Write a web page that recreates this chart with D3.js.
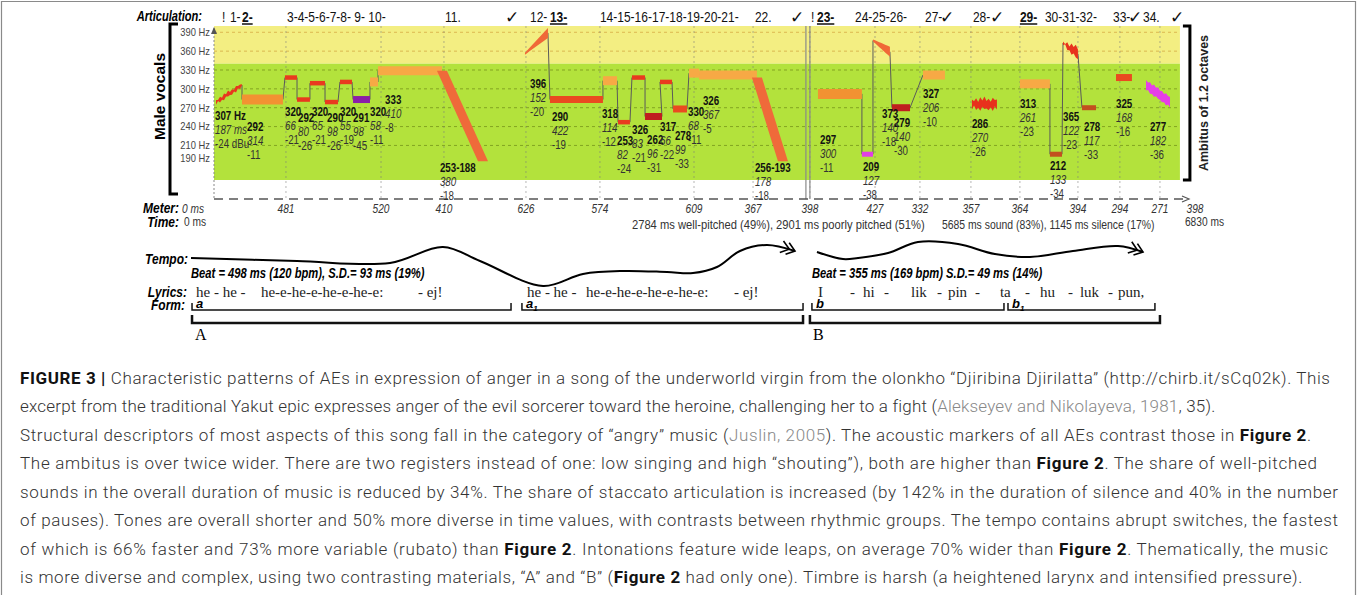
<!DOCTYPE html>
<html><head><meta charset="utf-8">
<script src="https://cdn.jsdelivr.net/npm/d3@7"></script>
<style>
html,body{margin:0;padding:0;background:#fff;}
svg{display:block;}
</style></head><body>
<svg id="c" width="1357" height="595"></svg>
<script>
// ---------------- DATA ----------------
const pitchTicks = [390, 360, 330, 300, 270, 240, 210, 190];
const registerBoundaryHz = 340;
const totalMs = 6830;
const plotEndMs = 6725;
const beatMs = [0, 501, 1163, 1601, 2172, 2687, 3342, 3753, 4149, 4602, 4915, 5270, 5611, 6015, 6307, 6586, 6830];
const meterLabels = ["0 ms", "481", "520", "410", "626", "574", "609", "367", "398", "427", "332", "357", "364", "394", "294", "271", "398"];
const sectionBoundaryMs = 4135;

const noteStartMs = [14,195,494,578,668,773,877,968,1086,1142,1587,2165,2339,2708,2813,2910,3001,3105,3196,3307,3377,3780,4205,4511,4588,4720,4936,5277,5611,5820,5911,6043,6280,6489];
const noteEndMs   = [195,480,578,668,773,863,961,1086,1142,1587,1873,2325,2708,2806,2896,3001,3119,3189,3293,3377,3780,3961,4511,4588,4706,4846,5089,5451,5820,5904,6015,6141,6391,6656];
const noteStartHz = [279,283,318,283,309,279,311,283,311,329,329,356,283,313,247,318,256,311,268,325,322,318,292,196,377,270,322,276,308,196,373,270,318,306];
const noteEndHz   = [306,283,318,283,309,279,311,283,311,329,185,389,283,313,247,318,256,311,268,325,322,185,292,196,359,270,322,276,308,196,356,270,318,279];
const noteKind = ["redThin","orange","red","red","red","red","red","purple","light","light","glide","flag","redorange","light","red","red","darkred","red","redorange","light","light","glide","orange","magenta","flag","darkred","light","redNoisy","light","brown","flagRed","brown","redorange","magentaBig"];
const noteLegato = [0,1,1,1,1,1,1,1,1,1,1,0,1,1,1,1,1,1,1,1,1,1,0,1,1,1,1,0,0,1,1,1,0,0];

const notePitchLabel = ["307 Hz","292","320","292","320","290","320","291","320","333","253-188","396","290","318","253","326","262","317","278","330","326","256-193","297","209","373","279","327","286","313","212","365","278","325","277"];
const noteDurLabel = ["187 ms","314","66","80","65","98","55","98","58","410","380","152","422","114","82","83","96","66","99","68","367","178","300","127","140","140","206","270","261","133","122","117","168","182"];
const noteDbLabel = ["-24 dBu","-11","-21","-26","-21","-26","-19","-45","-11","-8","-18","-20","-19","-12","-24","-21","-31","-22","-33","-11","-5","-18","-11","-38","-18","-30","-10","-26","-23","-34","-23","-33","-16","-36"];
const labelAnchorMs = [7,230,494,585,682,787,877,968,1086,1191,1573,2200,2353,2701,2806,2910,3015,3105,3209,3300,3404,3766,4219,4518,4651,4734,4936,5277,5611,5820,5911,6057,6280,6516];
const labelAnchorHz = [258,240,263,254,263,254,263,254,263,283,174,308,256,260,217,235,220,240,226,263,281,174,220,176,261,247,292,244,276,178,256,240,276,240];

const articulationText = ["!","1-","2-","3-4-5-6-7-8- 9- 10-","11.","✓","12-","13-","14-15-16-17-18-19-20-21-","22.","✓","!","23-","24-25-26-","27-","✓","28-","✓","29-","30-31-32-","33-","✓","34.","✓"];
const articulationMs = [56,111,195,508,1608,2026,2200,2339,2687,3766,4010,4156,4198,4463,4950,5054,5284,5402,5611,5785,6259,6363,6468,6656];
const articulationAccent = [0,0,1,0,0,0,0,1,0,0,0,0,1,0,0,0,0,0,1,0,0,0,0,0];

const tempoAMs = [-160,578,1225,1594,1852,2291,2569,2847,3154,3335,3502,3662,3850,4045];
const tempoALevel = [6.55,6.0,5.64,8.55,6.0,1.45,3.64,4.18,4.0,3.82,4.91,7.82,8.91,7.82];
const tempoBMs = [4198,4379,4484,4693,4901,5180,5437,5681,5980,6294,6468];
const tempoBLevel = [7.64,6.36,6.55,7.45,9.45,9.09,7.27,6.73,7.82,8.73,7.64];
const beatTexts = ["Beat = 498 ms (120 bpm), S.D.= 93 ms (19%)", "Beat = 355 ms (169 bpm) S.D.= 49 ms (14%)"];
const beatTextMs = [-160, 4163];

const lyricTokens = ["he - he -","he-e-he-e-he-e-he-e:","- ej!","he - he -","he-e-he-e-he-e-he-e:","- ej!","I","-","hi","-","lik","-","pin","-","ta","-","hu","-","luk","-","pun,"];
const lyricMs = [-125,327,1420,2179,2590,3620,4205,4428,4518,4665,4853,5034,5110,5298,5472,5646,5751,5946,6029,6224,6294];

const formNames = ["a","a","b","b"];
const formSub = ["","1","","1"];
const formStartMs = [-153,2144,4163,5528];
const formEndMs = [2068,4101,5500,6551];
const partNames = ["A","B"];
const partStartMs = [-153,4149];
const partEndMs = [4101,6586];

const pitchStatText = "2784 ms well-pitched (49%), 2901 ms poorly pitched (51%)";
const pitchStatMs = 2910;
const soundStatText = "5685 ms sound (83%), 1145 ms silence (17%)";
const soundStatMs = 5068;
const totalLabel = "6830 ms";
const totalLabelMs = 6760;

const captionLines = [
 [["FIGURE 3 | ","b"],["Characteristic patterns of AEs in expression of anger in a song of the underworld virgin from the olonkho “Djiribina Djirilatta” (http://chirb.it/sCq02k). This","n"]],
 [["excerpt from the traditional Yakut epic expresses anger of the evil sorcerer toward the heroine, challenging her to a fight (","n"],["Alekseyev and Nikolayeva, 1981","g"],[", 35).","n"]],
 [["Structural descriptors of most aspects of this song fall in the category of “angry” music (","n"],["Juslin, 2005","g"],["). The acoustic markers of all AEs contrast those in ","n"],["Figure 2","b"],[".","n"]],
 [["The ambitus is over twice wider. There are two registers instead of one: low singing and high “shouting”), both are higher than ","n"],["Figure 2","b"],[". The share of well-pitched","n"]],
 [["sounds in the overall duration of music is reduced by 34%. The share of staccato articulation is increased (by 142% in the duration of silence and 40% in the number","n"]],
 [["of pauses). Tones are overall shorter and 50% more diverse in time values, with contrasts between rhythmic groups. The tempo contains abrupt switches, the fastest","n"]],
 [["of which is 66% faster and 73% more variable (rubato) than ","n"],["Figure 2","b"],[". Intonations feature wide leaps, on average 70% wider than ","n"],["Figure 2","b"],[". Thematically, the music","n"]],
 [["is more diverse and complex, using two contrasting materials, “A” and “B” (","n"],["Figure 2","b"],[" had only one). Timbre is harsh (a heightened larynx and intensified pressure).","n"]]
];
const captionLineEnds = [1330,1215,1311,1317,1338,1338,1328,1302];

// ---------------- STYLE ----------------
const SANS = "'Liberation Sans',Arial,sans-serif";
const SERIF = "'Liberation Serif','DejaVu Serif',serif";
const CAP = "Roboto,'Liberation Sans',sans-serif";
const kindStyle = {
  redThin:{c:"#e8361e",w:4,noisy:1},
  red:{c:"#e93a1f",w:4.5},
  redNoisy:{c:"#e8301c",w:9,noisy:1.6},
  orange:{c:"#f29232",w:10},
  light:{c:"#f7a945",w:9},
  purple:{c:"#8b1ea8",w:7},
  glide:{c:"#ef6a3a",w:10,glide:true},
  flag:{c:"#f06838",w0:2,w1:10},
  flagRed:{c:"#e8321c",w0:3,w1:11,noisy:1.3},
  redorange:{c:"#ea4a20",w:7},
  darkred:{c:"#bf1f1f",w:7},
  magenta:{c:"#e23ee6",w:5},
  magentaBig:{c:"#e63ee8",w:10,noisy:0.8},
  brown:{c:"#c2501f",w:5}
};
const NOISE=[0,1.2,-0.8,1.6,-1.4,0.6,-1.8,1,-0.4,1.4,-1.1,0.3];
function squeeze(sel,f){sel.each(function(){const L=this.getComputedTextLength();d3.select(this).attr("textLength",(L*f).toFixed(2)).attr("lengthAdjust","spacingAndGlyphs");});return sel;}

// ---------------- SCALES ----------------
const svg = d3.select("#c");
const x = d3.scaleLinear().domain([0,totalMs]).range([214,1195]);
const y = d3.scaleLinear().domain([155,400]).range([180,26]);
const yT = d3.scaleLinear().domain([0,10]).range([294,239]);
const AXIS_Y = 199;
const ART_Y = 16, METER_Y = 208, TIME_Y = 222, TEMPO_Y = 259, BEAT_Y = 273, LYR_Y = 292, FORM_Y = 305;

// frame
svg.append("path").attr("d","M1.5,595V1.5H1355.5V595").attr("fill","none").attr("stroke","#8a8a8a").attr("stroke-width",1.2);

// defs
const defs = svg.append("defs");
defs.append("marker").attr("id","dbl").attr("viewBox","-12 -7 20 14").attr("refX",4).attr("refY",0)
  .attr("markerWidth",20).attr("markerHeight",14).attr("markerUnits","userSpaceOnUse").attr("orient","auto")
  .append("path").attr("d","M-10,-6L-2,0L-10,6M-4,-6L4,0L-4,6").attr("fill","none").attr("stroke","#000").attr("stroke-width",1.6);
defs.append("marker").attr("id","arr").attr("viewBox","-8 -4 10 8").attr("refX",0).attr("refY",0)
  .attr("markerWidth",10).attr("markerHeight",8).attr("markerUnits","userSpaceOnUse").attr("orient","auto")
  .append("path").attr("d","M-7,-3L0,0L-7,3").attr("fill","none").attr("stroke","#555").attr("stroke-width",1.2);

// background registers
const x0 = x(0), xe = x(plotEndMs);
svg.append("rect").attr("x",x0).attr("y",y(400)).attr("width",xe-x0).attr("height",y(registerBoundaryHz)-y(400)).attr("fill","#f3ee82");
svg.append("rect").attr("x",x0).attr("y",y(registerBoundaryHz)).attr("width",xe-x0).attr("height",y(155)-y(registerBoundaryHz)).attr("fill","#b3e23c");

// horizontal grid
svg.append("g").selectAll("line").data(pitchTicks.slice(0,7)).join("line")
  .attr("x1",x0).attr("x2",xe).attr("y1",d=>y(d)).attr("y2",d=>y(d))
  .attr("stroke",d=>d>registerBoundaryHz?"rgba(200,140,40,0.55)":"rgba(70,90,0,0.45)")
  .attr("stroke-dasharray","3,3").attr("stroke-width",1);
// vertical beat grid
svg.append("g").selectAll("line").data(beatMs.slice(1,-1)).join("line")
  .attr("x1",d=>x(d)).attr("x2",d=>x(d)).attr("y1",y(400)).attr("y2",AXIS_Y)
  .attr("stroke","rgba(120,120,120,0.55)").attr("stroke-dasharray","2,3").attr("stroke-width",1);
// y axis dotted line + arrow
svg.append("line").attr("x1",x0).attr("x2",x0).attr("y1",y(400)+2).attr("y2",AXIS_Y).attr("stroke","#888").attr("stroke-dasharray","2,2");
svg.append("path").attr("d",`M${x0-3},${y(400)+8}L${x0},${y(400)+1}L${x0+3},${y(400)+8}Z`).attr("fill","#555");
// section boundary double line
[-2,2].forEach(o=>svg.append("line").attr("x1",x(sectionBoundaryMs)+o).attr("x2",x(sectionBoundaryMs)+o)
  .attr("y1",y(400)).attr("y2",AXIS_Y).attr("stroke","#8a8a8a").attr("stroke-width",1.2));
// time axis
svg.append("line").attr("x1",x0).attr("x2",x(totalMs)-6).attr("y1",AXIS_Y).attr("y2",AXIS_Y)
  .attr("stroke","#555").attr("stroke-width",1.3).attr("stroke-dasharray","9,6").attr("marker-end","url(#arr)");

// y tick labels
squeeze(svg.append("g").selectAll("text").data(pitchTicks).join("text")
  .attr("x",x0-4).attr("y",d=>y(d)).attr("dy","0.35em").attr("text-anchor","end")
  .attr("font-family",SANS).attr("font-size",11).attr("fill","#444").text(d=>d+" Hz"),0.85);

// left bracket and title
svg.append("path").attr("d",`M178,${y(400)-2}H170V${AXIS_Y-5}H178`).attr("fill","none").attr("stroke","#000").attr("stroke-width",3);
svg.append("text").attr("transform",`translate(160,${(y(400)+AXIS_Y)/2-16}) rotate(-90)`).attr("text-anchor","middle").attr("dy","0.35em")
  .attr("font-family",SANS).attr("font-weight","bold").attr("font-size",15.5).text("Male vocals");
// right bracket
svg.append("path").attr("d",`M${xe+3},${y(400)}H${xe+10}V${y(155)}H${xe+3}`).attr("fill","none").attr("stroke","#000").attr("stroke-width",3);
svg.append("text").attr("transform",`translate(${xe+24},${(y(400)+y(155))/2}) rotate(-90)`).attr("text-anchor","middle").attr("dy","0.35em")
  .attr("font-family",SANS).attr("font-weight","bold").attr("font-size",12.5).attr("fill","#222").text("Ambitus of 1.2 octaves");

// ---------------- NOTES ----------------
const notes = noteStartMs.map((t0,i)=>({i,t0,t1:noteEndMs[i],f0:noteStartHz[i],f1:noteEndHz[i],kind:noteKind[i],legato:noteLegato[i]}));
function notePath(n){
  const st = kindStyle[n.kind];
  const ax=x(n.t0), bx=x(n.t1), ay=y(n.f0), by=y(n.f1);
  if(st.glide){const h=st.w/2;return `M${ax-h},${ay}L${ax+h},${ay}L${bx+h},${by}L${bx-h},${by}Z`;}
  const w0 = st.w0!==undefined?st.w0:st.w, w1 = st.w1!==undefined?st.w1:st.w;
  const steps = Math.max(2,Math.round((bx-ax)/2));
  const top=[],bot=[];
  for(let k=0;k<=steps;k++){
    const u=k/steps, xx=ax+(bx-ax)*u, yy=ay+(by-ay)*u, hw=(w0+(w1-w0)*u)/2;
    const j1=st.noisy?NOISE[k%NOISE.length]*st.noisy:0, j2=st.noisy?NOISE[(k+5)%NOISE.length]*st.noisy:0;
    top.push([xx,yy-hw+j1]); bot.push([xx,yy+hw+j2]);
  }
  return "M"+top.map(p=>p.join(",")).join("L")+"L"+bot.reverse().map(p=>p.join(",")).join("L")+"Z";
}
svg.append("g").selectAll("line").data(notes.filter(n=>n.legato && n.i>0 && !kindStyle[n.kind].glide)).join("line")
  .attr("x1",n=>x(notes[n.i-1].t1)).attr("y1",n=>y(notes[n.i-1].f1))
  .attr("x2",n=>x(n.t0)).attr("y2",n=>y(n.f0)).attr("stroke","#5a5a5a").attr("stroke-width",1);
svg.append("g").selectAll("path").data(notes).join("path")
  .attr("d",notePath).attr("fill",n=>kindStyle[n.kind].c);

// note labels (3 lines each)
const lg = svg.append("g").attr("font-family",SANS).attr("font-size",12.5);
const labelRows = [[notePitchLabel,"bold","normal","#111"],[noteDurLabel,"normal","italic","#333"],[noteDbLabel,"normal","normal","#333"]];
labelRows.forEach(([arr,fw,fs,col],r)=>{
  squeeze(lg.append("g").selectAll("text").data(notes).join("text")
    .attr("x",n=>x(labelAnchorMs[n.i])).attr("y",n=>y(labelAnchorHz[n.i])+r*14).attr("dy","0.35em")
    .attr("font-weight",fw).attr("font-style",fs).attr("fill",col).text(n=>arr[n.i]),0.78);
});

// ---------------- ARTICULATION ROW ----------------
squeeze(svg.append("text").attr("x",202).attr("y",ART_Y).attr("dy","0.35em").attr("text-anchor","end")
  .attr("font-family",SANS).attr("font-weight","bold").attr("font-style","italic").attr("font-size",15).text("Articulation:"),0.74);
const art = svg.append("g").selectAll("text").data(articulationText).join("text")
  .attr("x",(d,i)=>x(articulationMs[i])).attr("y",ART_Y+1).attr("dy","0.35em")
  .attr("font-family",d=>d==="✓"?"'DejaVu Sans',sans-serif":SANS)
  .attr("font-size",d=>d==="✓"?17:15).attr("font-weight",(d,i)=>articulationAccent[i]||d==="✓"?"bold":"normal")
  .style("text-decoration",(d,i)=>articulationAccent[i]?"underline":"none")
  .attr("fill","#111").text(d=>d);
squeeze(art.filter(d=>d!=="✓"),0.8);

// ---------------- METER / TIME ----------------
const rowLabel=(txt,yy,xr,f)=>squeeze(svg.append("text").attr("x",xr).attr("y",yy).attr("dy","0.35em").attr("text-anchor","end")
  .attr("font-family",SANS).attr("font-weight","bold").attr("font-style","italic").attr("font-size",15).text(txt),f||0.8);
rowLabel("Meter:",METER_Y,179);
rowLabel("Time:",TIME_Y,179);
squeeze(svg.append("g").selectAll("text").data(meterLabels).join("text")
  .attr("x",(d,i)=>i===0?182:x(beatMs[i])).attr("y",METER_Y).attr("dy","0.35em")
  .attr("text-anchor",(d,i)=>i===0?"start":"middle")
  .attr("font-family",SANS).attr("font-style","italic").attr("font-size",13).attr("fill","#333").text(d=>d),0.78);
squeeze(svg.append("text").attr("x",184).attr("y",TIME_Y).attr("dy","0.35em").attr("font-family",SANS).attr("font-size",12).attr("fill","#333").text("0 ms"),0.85);
squeeze(svg.append("text").attr("x",x(pitchStatMs)).attr("y",TIME_Y+2).attr("dy","0.35em").attr("font-family",SANS).attr("font-size",13).attr("fill","#333").text(pitchStatText),0.86);
squeeze(svg.append("text").attr("x",x(soundStatMs)).attr("y",TIME_Y+2).attr("dy","0.35em").attr("font-family",SANS).attr("font-size",13).attr("fill","#333").text(soundStatText),0.8);
squeeze(svg.append("text").attr("x",x(totalLabelMs)).attr("y",TIME_Y).attr("dy","0.35em").attr("font-family",SANS).attr("font-size",12).attr("fill","#333").text(totalLabel),0.85);

// ---------------- TEMPO ----------------
rowLabel("Tempo:",TEMPO_Y,188);
const tline = d3.line().x(d=>x(d[0])).y(d=>yT(d[1])).curve(d3.curveCatmullRom.alpha(0.5));
[[tempoAMs,tempoALevel],[tempoBMs,tempoBLevel]].forEach(([ms,lv])=>{
  svg.append("path").attr("d",tline(ms.map((m,i)=>[m,lv[i]]))).attr("fill","none").attr("stroke","#000").attr("stroke-width",2).attr("marker-end","url(#dbl)");
});
squeeze(svg.append("g").selectAll("text").data(beatTexts).join("text")
  .attr("x",(d,i)=>x(beatTextMs[i])).attr("y",BEAT_Y).attr("dy","0.35em")
  .attr("font-family",SANS).attr("font-weight","bold").attr("font-style","italic").attr("font-size",14).text(d=>d),0.8);

// ---------------- LYRICS ----------------
rowLabel("Lyrics:",LYR_Y,187);
svg.append("g").selectAll("text").data(lyricTokens).join("text")
  .attr("x",(d,i)=>x(lyricMs[i])).attr("y",LYR_Y).attr("dy","0.35em")
  .attr("font-family",SERIF).attr("font-size",15).attr("fill","#222").text(d=>d);

// ---------------- FORM ----------------
rowLabel("Form:",FORM_Y,185);
formNames.forEach((nm,i)=>{
  const a=x(formStartMs[i]), b=x(formEndMs[i]);
  svg.append("path").attr("d",`M${a},${FORM_Y-2}V${FORM_Y+5}H${b}V${FORM_Y-2}`).attr("fill","none").attr("stroke","#111").attr("stroke-width",1.5);
  const t=svg.append("text").attr("x",a+4).attr("y",FORM_Y).attr("dy","0.2em").attr("font-family",SANS)
    .attr("font-weight","bold").attr("font-style","italic").attr("font-size",13).text(nm);
  if(formSub[i]) t.append("tspan").attr("font-size",8).attr("dy",3).text(formSub[i]);
});
partNames.forEach((nm,i)=>{
  const a=x(partStartMs[i]), b=x(partEndMs[i]);
  svg.append("path").attr("d",`M${a},${FORM_Y+10}V${FORM_Y+18}H${b}V${FORM_Y+10}`).attr("fill","none").attr("stroke","#111").attr("stroke-width",2.5);
  svg.append("text").attr("x",a+3).attr("y",FORM_Y+29).attr("dy","0.35em").attr("font-family",SERIF).attr("font-size",16).text(nm);
});

// ---------------- CAPTION ----------------
const cap = svg.append("g").attr("font-family",CAP).attr("font-size",17).attr("font-weight",300).attr("fill","#333");
captionLines.forEach((segs,li)=>{
  const t = cap.append("text").attr("x",20).attr("y",378+li*28.5).attr("dy","0.35em");
  segs.forEach(([s,k])=>{
    const ts=t.append("tspan").text(s);
    if(k==="b") ts.attr("font-weight",700).attr("fill","#111");
    if(k==="g") ts.attr("fill","#888");
  });
  const len = t.node().getComputedTextLength();
  const n = segs.map(s=>s[0]).join("").length;
  const ls = (captionLineEnds[li]-20-len)/(n-1);
  t.attr("letter-spacing",ls.toFixed(3));
});
</script>
</body></html>
